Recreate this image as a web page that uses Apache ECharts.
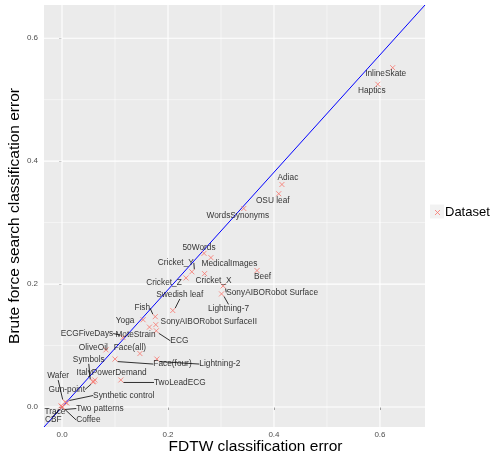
<!DOCTYPE html>
<html><head><meta charset="utf-8">
<script src="https://cdn.jsdelivr.net/npm/echarts@6/dist/echarts.min.js"></script>
<style>html,body{margin:0;padding:0;background:#fff}#c{width:495px;height:453px}</style>
</head><body><div id="c"></div>
<script>
// ---- data ----
const names = ['InlineSkate','Haptics','Adiac','OSU leaf','WordsSynonyms','50Words','MedicalImages',
  'Cricket_Y','Cricket_Z','Cricket_X','Beef','SonyAIBORobot Surface','Lightning-7','Swedish leaf',
  'Fish','Yoga','SonyAIBORobot SurfaceII','MoteStrain','ECG','ECGFiveDays','OliveOil','Face(all)',
  'Symbols','Face(four)','Lightning-2','ItalyPowerDemand','TwoLeadECG','Wafer','Gun-point',
  'Synthetic control','Two patterns','Trace','CBF','Coffee'];
const fdtwError = [0.624,0.596,0.415,0.409,0.343,0.268,0.281,
  0.245,0.234,0.269,0.368,0.304,0.301,0.209,
  0.176,0.153,0.177,0.165,0.178,0.115,0.083,0.147,
  0.058,0.100,0.179,0.062,0.111,0.006,0.060,
  0.009,0.000,-0.002,0.000,0.001];
const bruteError = [0.552,0.525,0.362,0.347,0.323,0.250,0.243,
  0.220,0.210,0.217,0.222,0.197,0.184,0.157,
  0.147,0.142,0.134,0.130,0.124,0.113,0.093,0.087,
  0.041,0.078,0.078,0.044,0.044,0.008,0.0415,
  0.0065,0.000,0.002,0.000,0.000];
const xTicks = [0, 0.2, 0.4, 0.6];
const xMinorTicks = [0.1, 0.3, 0.5];
const yTicks = [0, 0.2, 0.4, 0.6];
const yMinorTicks = [0.1, 0.3, 0.5];
const xRange = [-0.034, 0.685];
const yRange = [-0.0325, 0.654];
const refLineX = [-0.034, 0.685];
const refLineY = [-0.0325, 0.654];

// ---- label layout (pixel offset of label centre from its point; segment flag) ----
const labelPlacement = {
  'InlineSkate':[-7,6,0],'Haptics':[-6,6.5,0],'Adiac':[6,-6.5,0],'OSU leaf':[-6,7,0],
  'WordsSynonyms':[-6,7.5,0],'50Words':[-5,-6,0],'MedicalImages':[18.5,6,0],
  'Cricket_Y':[-16,-9,1],'Cricket_Z':[-22,5,0],'Cricket_X':[9,7,0],'Beef':[5.5,6.5,0],
  'SonyAIBORobot Surface':[49,6.5,1],'Lightning-7':[7,14.5,1],'Swedish leaf':[7,-15.5,1],
  'Fish':[-13,-8.5,1],'Yoga':[-18,0.5,0],'SonyAIBORobot SurfaceII':[53,-2.5,0],
  'MoteStrain':[-14,7.5,0],'ECG':[23,10,1],'ECGFiveDays':[-36,-4,1],'OliveOil':[-12.7,-2,0],
  'Face(all)':[-10,-6,0],'Symbols':[-4,-22,1],'Face(four)':[57.5,5,1],'Lightning-2':[63,5,1],
  'ItalyPowerDemand':[16.8,-7.2,0],'TwoLeadECG':[59,2.5,1],'Wafer':[-7,-26,1],
  'Gun-point':[-27,8,1],'Synthetic control':[57,-7.5,1],'Two patterns':[38,1.5,1],
  'Trace':[-6,6,0],'CBF':[-8.7,13,1],'Coffee':[25.8,13,1]
};

const FONT = "'Liberation Sans', Arial, Helvetica, sans-serif";
const points = names.map((n, i) => {
  const p = labelPlacement[n];
  const item = { name: n, value: [fdtwError[i], bruteError[i]] };
  if (p[2]) item.labelLine = { show: true };
  return item;
});

function gridSeries(v, isX, width) {
  const data = isX ? yRange.map(y => [v, y]) : xRange.map(x => [x, v]);
  return { type: 'line', data, symbol: 'none', silent: true, z: 1, animation: false,
           lineStyle: { color: '#FFFFFF', width }, tooltip: { show: false } };
}
const gridLineSeries = [
  ...xMinorTicks.map(v => gridSeries(v, true, 0.5)),
  ...yMinorTicks.map(v => gridSeries(v, false, 0.5)),
  ...xTicks.map(v => gridSeries(v, true, 1.1)),
  ...yTicks.map(v => gridSeries(v, false, 1.1))
];

const crossPath = 'path://M0,0L10,10M10,0L0,10';
const chart = echarts.init(document.getElementById('c'), null, { renderer: 'canvas' });
chart.setOption({
  animation: false,
  backgroundColor: '#fff',
  textStyle: { fontFamily: FONT },
  grid: { left: 44, right: 70, top: 5, bottom: 26, show: true, backgroundColor: '#EBEBEB', borderWidth: 0,
          containLabel: false, outerBoundsMode: 'none' },
  xAxis: {
    type: 'value', min: xRange[0], max: xRange[1],
    name: 'FDTW classification error', nameLocation: 'middle', nameGap: 12, nameMoveOverlap: false,
    nameTextStyle: { fontSize: 15.5, color: '#000', fontFamily: FONT, padding: [0, 0, 0, 42] },
    axisLine: { show: false }, splitLine: { show: false },
    axisTick: { show: true, customValues: xTicks, length: 3, lineStyle: { color: '#333', width: 1 } },
    axisLabel: { customValues: xTicks, formatter: v => v.toFixed(1), color: '#4D4D4D', fontSize: 8, margin: 4, fontFamily: FONT }
  },
  yAxis: {
    type: 'value', min: yRange[0], max: yRange[1],
    name: 'Brute force search classification error', nameLocation: 'middle', nameGap: 21, nameMoveOverlap: false,
    nameTextStyle: { fontSize: 15.5, color: '#000', fontFamily: FONT },
    axisLine: { show: false }, splitLine: { show: false },
    axisTick: { show: true, customValues: yTicks, length: 3, lineStyle: { color: '#333', width: 1 } },
    axisLabel: { customValues: yTicks, formatter: v => v.toFixed(1), color: '#4D4D4D', fontSize: 8, margin: 6, fontFamily: FONT }
  },
  legend: {
    data: [{ name: 'Dataset', icon: crossPath }],
    left: 434.5, top: 206, itemWidth: 5, itemHeight: 5, itemGap: 0, padding: 0, itemTextGap: 6,
    itemStyle: { color: 'rgba(0,0,0,0)', borderColor: '#F8766D', borderWidth: 1 },
    textStyle: { fontSize: 13, color: '#000', fontFamily: FONT }
  },
  graphic: [{ type: 'rect', left: 430, top: 204.5, shape: { width: 14, height: 14 }, style: { fill: '#F2F2F2' }, z: -1, silent: true }],
  series: [
    ...gridLineSeries,
    {
      type: 'line', name: 'ref', data: refLineX.map((x, i) => [x, refLineY[i]]),
      symbol: 'none', lineStyle: { color: '#0000FF', width: 1 }, z: 3, silent: true
    },
    {
      type: 'scatter', name: 'Dataset', data: points, z: 4,
      symbol: crossPath, symbolSize: 5,
      itemStyle: { color: 'rgba(0,0,0,0)', borderColor: '#F8766D', borderWidth: 1 },
      label: { show: true, formatter: '{b}', position: 'inside', fontSize: 8.3, color: '#000', fontFamily: FONT },
      labelLayout: p => { const o = labelPlacement[names[p.dataIndex]]; return { dx: o[0], dy: o[1] }; },
      labelLine: { show: false, lineStyle: { color: '#000', width: 0.8 } }
    }
  ]
});
</script></body></html>
